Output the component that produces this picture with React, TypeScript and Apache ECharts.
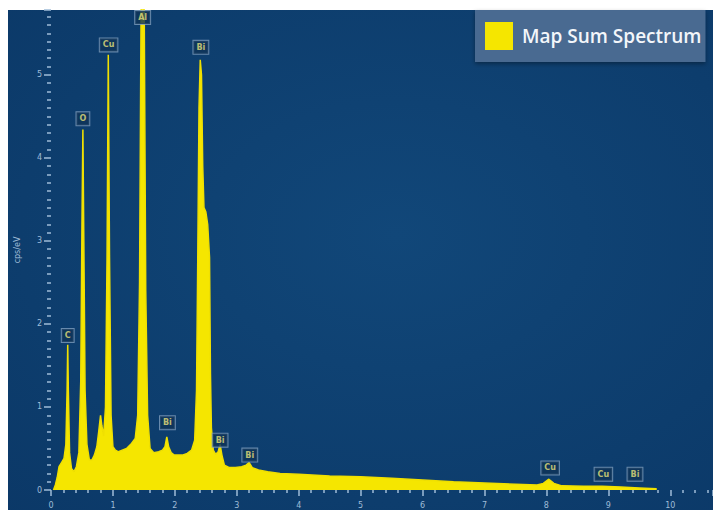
import React, { useEffect, useRef } from 'react';
import * as echarts from 'echarts';

// Spectrum (energy in keV, intensity in cps/eV)
const energies = [
  0.04, 0.07, 0.10, 0.13, 0.17, 0.21, 0.24, 0.26, 0.27, 0.28, 0.30, 0.33, 0.37, 0.41, 0.45, 0.48,
  0.50, 0.515, 0.53, 0.55, 0.58, 0.62, 0.66, 0.70, 0.74, 0.77, 0.80, 0.82, 0.85, 0.88, 0.905, 0.925,
  0.945, 0.97, 1.00, 1.04, 1.09, 1.15, 1.22, 1.30, 1.36, 1.40, 1.43, 1.46, 1.50, 1.53, 1.56, 1.60,
  1.66, 1.74, 1.80, 1.84, 1.87, 1.90, 1.94, 1.99, 2.05, 2.12, 2.20, 2.27, 2.32, 2.35, 2.37, 2.39,
  2.41, 2.43, 2.45, 2.47, 2.50, 2.53, 2.56, 2.575, 2.59, 2.62, 2.66, 2.70, 2.73, 2.76, 2.80, 2.88,
  2.98, 3.08, 3.15, 3.20, 3.25, 3.35, 3.5, 3.7, 4.0, 4.5, 5.0, 5.5, 6.0, 6.5, 7.0, 7.5, 7.85, 7.95,
  8.04, 8.12, 8.25, 8.6, 8.9, 9.2, 9.5, 9.78,
];
const counts = [
  0, 0.06, 0.15, 0.28, 0.33, 0.38, 0.55, 1.2, 1.75, 1.2, 0.45, 0.26, 0.22, 0.28, 0.45, 1.3,
  3.2, 4.34, 3.0, 1.2, 0.55, 0.36, 0.36, 0.42, 0.52, 0.7, 0.9, 0.78, 0.65, 1.0, 2.8, 5.24,
  2.8, 0.9, 0.52, 0.48, 0.46, 0.48, 0.5, 0.56, 0.62, 0.9, 2.5, 6.5, 6.5, 2.4, 0.9, 0.5,
  0.45, 0.46, 0.48, 0.52, 0.64, 0.52, 0.45, 0.42, 0.42, 0.42, 0.44, 0.48, 0.6, 1.2, 2.8, 4.6,
  5.18, 5.0, 3.9, 3.4, 3.35, 3.2, 2.8, 1.4, 0.75, 0.48, 0.43, 0.46, 0.55, 0.42, 0.3, 0.27,
  0.27, 0.28, 0.3, 0.33, 0.27, 0.24, 0.22, 0.2, 0.19, 0.17, 0.16, 0.14, 0.12, 0.1, 0.085, 0.07, 0.06, 0.08,
  0.13, 0.08, 0.05, 0.045, 0.045, 0.035, 0.025, 0.015,
];

// Peak identification labels
const peakNames = ['C', 'O', 'Cu', 'Al', 'Bi', 'Bi', 'Bi', 'Bi', 'Cu', 'Cu', 'Bi'];
const peakEnergies = [0.27, 0.515, 0.93, 1.48, 2.42, 1.88, 2.73, 3.21, 8.06, 8.92, 9.43];
const peakLabelLevels = [1.86, 4.47, 5.36, 5.69, 5.33, 0.81, 0.6, 0.42, 0.265, 0.19, 0.19];

const seriesName = 'Map Sum Spectrum';
const xTickLabels = ['0', '1', '2', '3', '4', '5', '6', '7', '8', '9', '10'];

export default function App() {
  const ref = useRef<HTMLDivElement>(null);
  useEffect(() => {
    if (!ref.current) return;
    const chart = echarts.init(ref.current, null, { renderer: 'svg' });
    const axisColor = '#9fbcd8';
    chart.setOption({
      animation: false,
      backgroundColor: '#ffffff',
      graphic: [
        {
          type: 'rect',
          z: -100,
          shape: { x: 8, y: 10, width: 705, height: 500 },
          style: {
            fill: new echarts.graphic.RadialGradient(0.55, 0.45, 0.8, [
              { offset: 0, color: '#114779' },
              { offset: 1, color: '#0b3867' },
            ]),
          },
        },
      ],
      legend: {
        data: [seriesName],
        left: 475,
        top: 10,
        padding: [12, 4, 12, 10],
        itemWidth: 28,
        itemHeight: 28,
        itemGap: 0,
        icon: 'rect',
        selectedMode: false,
        backgroundColor: '#4a6a91',
        shadowColor: 'rgba(0,0,0,0.35)',
        shadowBlur: 4,
        shadowOffsetY: 2,
        textStyle: {
          color: '#f3f6fa',
          fontSize: 19,
          fontWeight: 600,
          fontFamily: 'Open Sans',
          padding: [0, 0, 0, 4],
        },
      },
      grid: { left: 51, right: 0, top: 10, bottom: 20, containLabel: false },
      xAxis: {
        type: 'value',
        min: 0,
        max: 10.69,
        interval: 1,
        axisLine: { show: false },
        axisTick: { show: true, length: 6, lineStyle: { color: axisColor, width: 1.5 } },
        minorTick: { show: true, splitNumber: 5, length: 3, lineStyle: { color: axisColor, width: 1.5 } },
        splitLine: { show: false },
        axisLabel: {
          color: axisColor,
          fontSize: 8,
          margin: 11,
          fontFamily: 'DejaVu Sans',
          showMaxLabel: false,
          formatter: (v: number) => xTickLabels[Math.round(v)] ?? '',
        },
      },
      yAxis: {
        type: 'value',
        min: 0,
        max: 5.78,
        interval: 1,
        name: 'cps/eV',
        nameLocation: 'middle',
        nameGap: 30,
        nameRotate: 90,
        nameTextStyle: { color: axisColor, fontSize: 8, fontFamily: 'DejaVu Sans' },
        axisLine: { show: false },
        axisTick: { show: true, length: 7, lineStyle: { color: axisColor, width: 1.5 } },
        minorTick: { show: true, splitNumber: 10, length: 4, lineStyle: { color: axisColor, width: 1.5 } },
        splitLine: { show: false },
        axisLabel: {
          color: axisColor,
          fontSize: 8,
          margin: 9,
          fontFamily: 'DejaVu Sans',
          showMaxLabel: false,
        },
      },
      series: [
        {
          name: seriesName,
          type: 'line',
          data: energies.map((e, i) => [e, counts[i]]),
          symbol: 'none',
          showSymbol: false,
          color: '#f5e600',
          lineStyle: { color: '#f0e000', width: 1.5 },
          areaStyle: { color: '#f5e600', opacity: 1 },
          z: 2,
        },
        {
          name: 'labels',
          type: 'scatter',
          data: peakEnergies.map((e, i) => [e, peakLabelLevels[i]]),
          symbolSize: 1,
          itemStyle: { color: 'rgba(0,0,0,0)' },
          z: 5,
          label: {
            show: true,
            position: 'inside',
            formatter: (p: any) => peakNames[p.dataIndex],
            color: '#e9e37a',
            fontSize: 8,
            fontWeight: 600,
            fontFamily: 'DejaVu Sans',
            backgroundColor: '#0f3358',
            borderColor: '#7f9dbd',
            borderWidth: 1,
            padding: [3, 3, 2, 3],
          },
        },
      ],
    });
    return () => chart.dispose();
  }, []);
  return (
    <div
      ref={ref}
      style={{ position: 'absolute', left: 0, top: 0, width: 713, height: 510 }}
    />
  );
}
